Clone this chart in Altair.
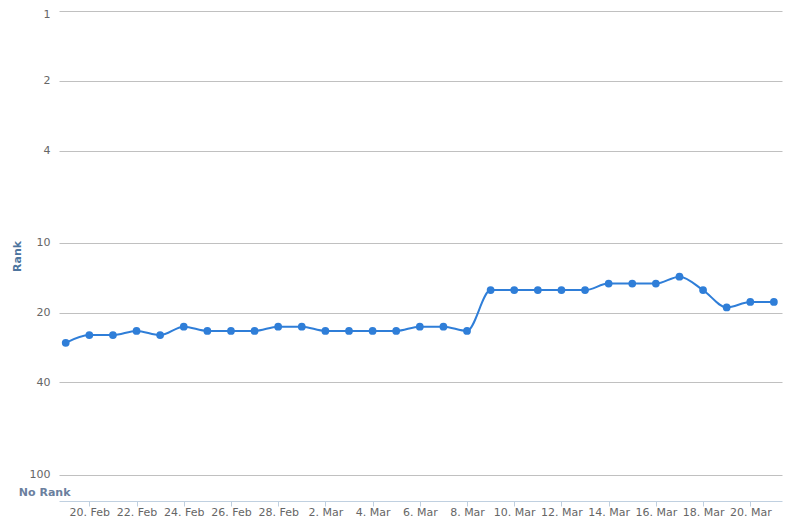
import altair as alt
import pandas as pd

dates = [
    "2021-02-19", "2021-02-20", "2021-02-21", "2021-02-22", "2021-02-23",
    "2021-02-24", "2021-02-25", "2021-02-26", "2021-02-27", "2021-02-28",
    "2021-03-01", "2021-03-02", "2021-03-03", "2021-03-04", "2021-03-05",
    "2021-03-06", "2021-03-07", "2021-03-08", "2021-03-09", "2021-03-10",
    "2021-03-11", "2021-03-12", "2021-03-13", "2021-03-14", "2021-03-15",
    "2021-03-16", "2021-03-17", "2021-03-18", "2021-03-19", "2021-03-20",
    "2021-03-21",
]
ranks = [27, 25, 25, 24, 25, 23, 24, 24, 24, 23,
         23, 24, 24, 24, 24, 23, 23, 24, 16, 16,
         16, 16, 16, 15, 15, 15, 14, 16, 19, 18,
         18]

y_ticks = [1, 2, 4, 10, 20, 40, 100, 119]
no_rank_value = 119
x_tick_days = [(2, 20), (2, 22), (2, 24), (2, 26), (2, 28),
               (3, 2), (3, 4), (3, 6), (3, 8), (3, 10), (3, 12),
               (3, 14), (3, 16), (3, 18), (3, 20)]

df = pd.DataFrame({"date": dates, "rank": ranks})

FONT = "DejaVu Sans"
LINE_COLOR = "#2f7ed8"

x_enc = alt.X(
    "date:T",
    scale=alt.Scale(
        type="utc",
        domain=[
            alt.DateTime(year=2021, month=2, date=18, hours=17, minutes=10, utc=True),
            alt.DateTime(year=2021, month=3, date=21, hours=8, minutes=15, utc=True),
        ],
    ),
    axis=alt.Axis(
        values=[alt.DateTime(year=2021, month=m, date=d, utc=True) for m, d in x_tick_days],
        format="%-d. %b",
        title=None,
        grid=False,
        domainColor="#C0D0E0",
        tickColor="#C0D0E0",
        tickSize=5,
        labelPadding=0,
        labelColor="#666666",
        labelFont=FONT,
        labelFontSize=11,
        labelFlush=False,
        labelOverlap=False,
    ),
)

y_enc = alt.Y(
    "rank:Q",
    scale=alt.Scale(type="log", domain=[1, 130], reverse=True, nice=False),
    axis=alt.Axis(
        values=y_ticks,
        labelExpr=f"datum.value >= {no_rank_value} ? 'No Rank' : format(datum.value, 'd')",
        title="Rank",
        titleColor="#4d759e",
        titleFont=FONT,
        titleFontSize=11,
        titleFontWeight="bold",
        titleX=-42,
        titleY=245,
        titleAngle=270,
        titleAlign="center",
        titleBaseline="middle",
        domain=False,
        ticks=False,
        grid=True,
        gridColor="#C0C0C0",
        gridWidth=1,
        gridOpacity=alt.condition(f"datum.value >= {no_rank_value}", alt.value(0), alt.value(1)),
        labelColor=alt.condition(f"datum.value >= {no_rank_value}", alt.value("#6b7f9e"), alt.value("#666666")),
        labelFontWeight=alt.condition(f"datum.value >= {no_rank_value}", alt.value("bold"), alt.value("normal")),
        labelPadding=alt.condition(f"datum.value >= {no_rank_value}", alt.value(-11), alt.value(9)),
        labelOffset=alt.condition("datum.value == 1", alt.value(3), alt.value(0)),
        labelFont=FONT,
        labelFontSize=11,
        labelFlush=False,
        labelOverlap=False,
    ),
)

base = alt.Chart(df).encode(x=x_enc, y=y_enc)

line = base.mark_line(color=LINE_COLOR, strokeWidth=2, interpolate="monotone")
points = base.mark_circle(color=LINE_COLOR, opacity=1, size=60)

chart = (
    (line + points)
    .properties(
        width=723,
        height=490,
        autosize=alt.AutoSizeParams(type="none"),
        padding={"left": 51, "top": 3, "right": 5, "bottom": 18},
    )
    .configure(font=FONT)
    .configure_view(strokeWidth=0, stroke="transparent")
)

chart.save("out.html", embed_options={"renderer": "svg", "actions": False})
